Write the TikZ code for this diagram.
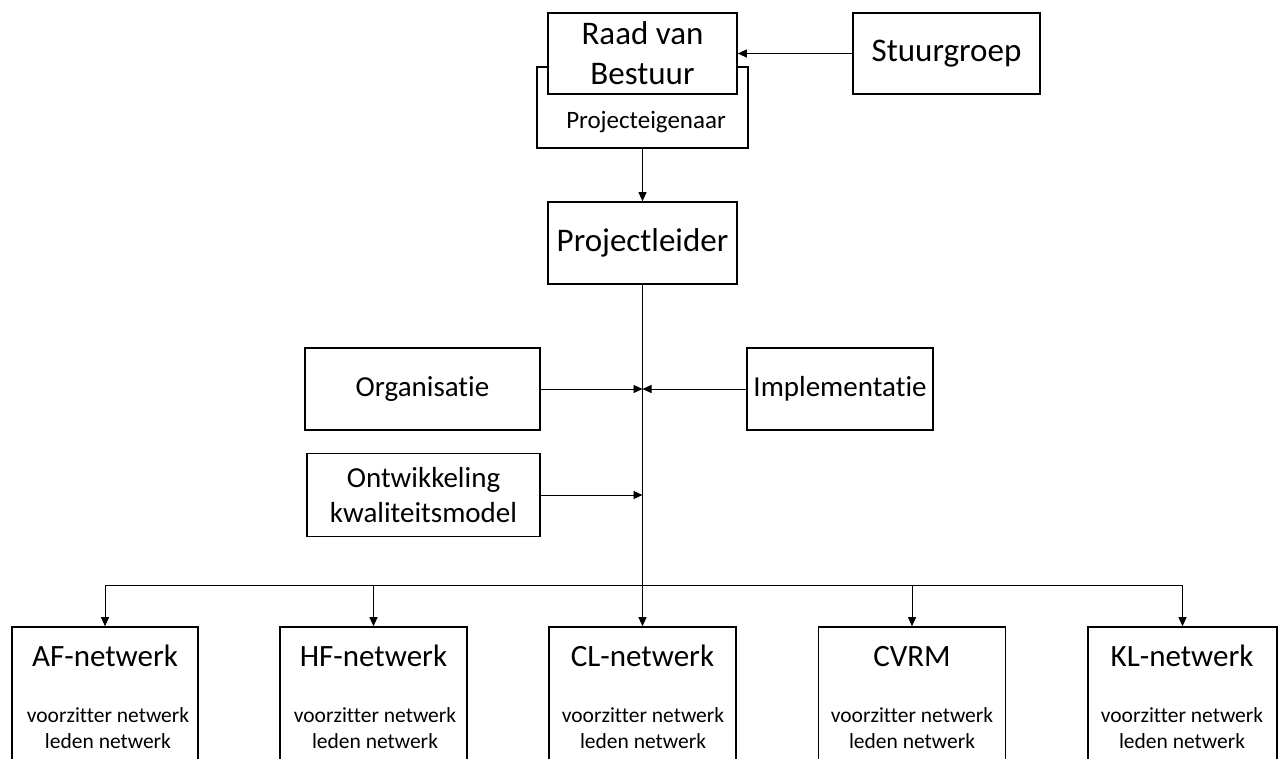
\documentclass[tikz,border=0pt]{standalone}
\usepackage{fontspec}
\setmainfont[Ligatures=NoCommon]{Carlito}
\usetikzlibrary{arrows.meta}
\begin{document}
\begin{tikzpicture}[x=1pt,y=-1pt,
  box/.style={draw, line width=1.6pt, fill=white, inner sep=0pt, align=center},
  line/.style={line width=0.9pt},
  conn/.style={line width=0.9pt, -{Triangle[length=9pt,width=8pt]}},
  bigtxt/.style={font=\fontsize{33}{40}\selectfont},
  midtxt/.style={font=\fontsize{29}{35}\selectfont},
  ownertxt/.style={font=\fontsize{25}{30}\selectfont},
  nettitle/.style={font=\fontsize{31}{36}\selectfont, anchor=base},
  netline/.style={font=\fontsize{21.5}{27}\selectfont, anchor=base},
]
\useasboundingbox (0,0) rectangle (1279,758);
\clip (0,0) rectangle (1279,758);

% top
\node[box, minimum width=211pt, minimum height=81pt] (owner) at (642.5,107.5) {};
\node[ownertxt, anchor=base] (ownerlbl) at (646,128) {Projecteigenaar};
\node[box, bigtxt, minimum width=189pt, minimum height=81pt] (raad) at (642.5,53.5) {Raad van\\Bestuur};
\node[box, bigtxt, minimum width=187pt, minimum height=81pt] (stuur) at (946.5,53.5) {Stuurgroep};
\node[box, bigtxt, minimum width=189pt, minimum height=82pt] (pl) at (642.5,243) {Projectleider};

% middle
\node[box, midtxt, minimum width=235pt, minimum height=82pt] (org) at (422.5,389) {Organisatie};
\node[box, midtxt, minimum width=186pt, minimum height=82pt] (impl) at (840,389) {Implementatie};
\node[box, midtxt, minimum width=233pt, minimum height=83pt] (ont) at (423.5,495) {Ontwikkeling\\kwaliteitsmodel};

\coordinate (j1) at (642.5,389);
\coordinate (j2) at (642.5,495);
\coordinate (bus) at (642.5,585);

% bottom boxes
\node[box, minimum width=186pt, minimum height=160pt] (af) at (105,707) {};
\node[box, minimum width=187pt, minimum height=160pt] (hf) at (373.5,707) {};
\node[box, minimum width=187pt, minimum height=160pt] (cl) at (642.5,707) {};
\node[box, minimum width=187pt, minimum height=160pt] (cvrm) at (912,707) {};
\node[box, minimum width=189pt, minimum height=160pt] (kl) at (1182.5,707) {};

\node[nettitle] (aft) at (105,666) {AF-netwerk};
\node[netline] (af1) at (108,722) {voorzitter netwerk};
\node[netline] (af2) at (108,748) {leden netwerk};
\node[nettitle] (hft) at (373.5,666) {HF-netwerk};
\node[netline] (hf1) at (375,722) {voorzitter netwerk};
\node[netline] (hf2) at (375,748) {leden netwerk};
\node[nettitle] (clt) at (642.5,666) {CL-netwerk};
\node[netline] (cl1) at (643,722) {voorzitter netwerk};
\node[netline] (cl2) at (643,748) {leden netwerk};
\node[nettitle] (cvrmt) at (912,666) {CVRM};
\node[netline] (cvrm1) at (912,722) {voorzitter netwerk};
\node[netline] (cvrm2) at (912,748) {leden netwerk};
\node[nettitle] (klt) at (1182,666) {KL-netwerk};
\node[netline] (kl1) at (1182,722) {voorzitter netwerk};
\node[netline] (kl2) at (1182,748) {leden netwerk};

% connectors
\draw[conn] (stuur.west) -- (raad.east);
\draw[conn] (owner.south) -- (pl.north);
\draw[line] (pl.south) -- (bus);
\draw[conn] (org.east) -- (j1);
\draw[conn] (impl.west) -- (j1);
\draw[conn] (ont.east) -- (j2);
\draw[line] (af.north |- bus) -- (kl.north |- bus);
\draw[conn] (af.north |- bus) -- (af.north);
\draw[conn] (hf.north |- bus) -- (hf.north);
\draw[conn] (bus) -- (cl.north);
\draw[conn] (cvrm.north |- bus) -- (cvrm.north);
\draw[conn] (kl.north |- bus) -- (kl.north);
\end{tikzpicture}
\end{document}
